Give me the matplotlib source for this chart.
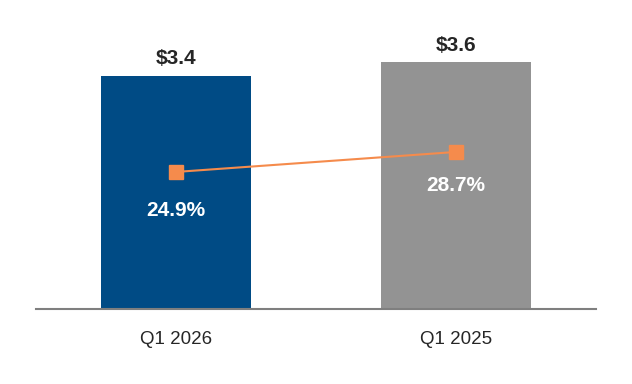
import numpy as np
import matplotlib
matplotlib.use("Agg")
import matplotlib.pyplot as plt

plt.rcParams['font.family'] = ['Liberation Sans', 'DejaVu Sans']

categories = ["Q1 2026", "Q1 2025"]
revenue = [3.4, 3.6]
revenue_labels = ["$3.4", "$3.6"]
margin = [24.9, 28.7]
margin_labels = ["24.9%", "28.7%"]

bar_colors = ["#004B85", "#939393"]
line_color = "#F58B4C"

fig = plt.figure(figsize=(6.32, 3.84), dpi=100)
ax = fig.add_axes((36 / 632, 1 - 309 / 384, 560 / 632, 289 / 384))

x = np.arange(len(categories))
ax.bar(x, revenue, width=0.536, color=bar_colors, zorder=2)
ax.set_xlim(-0.5, 1.5)
ax.set_ylim(0, 289 / 68.5)

for xi, v, lab in zip(x, revenue, revenue_labels):
    ax.annotate(lab, (xi, v), xytext=(0, 12.5), textcoords="offset points",
                ha="center", va="center", fontsize=15, fontweight="bold",
                color="#262626")

for s in ["top", "right", "left"]:
    ax.spines[s].set_visible(False)
ax.spines["bottom"].set_color("#7f7f7f")
ax.spines["bottom"].set_linewidth(1.5)
ax.set_yticks([])
ax.set_xticks(x)
ax.set_xticklabels(categories, fontsize=13.5, color="#262626")
ax.tick_params(axis="x", length=0, pad=16)

ax2 = ax.twinx()
ax2.set_ylim(-1.14, 53.77)
ax2.axis("off")
ax2.plot(x, margin, color=line_color, lw=1.5, marker="s", markersize=10,
         zorder=3)
offsets = [-28, -24]
for xi, v, lab, off in zip(x, margin, margin_labels, offsets):
    ax2.annotate(lab, (xi, v), xytext=(0, off), textcoords="offset points",
                 ha="center", va="center", fontsize=15, fontweight="bold",
                 color="white")

fig.savefig("out.png", dpi=100)
